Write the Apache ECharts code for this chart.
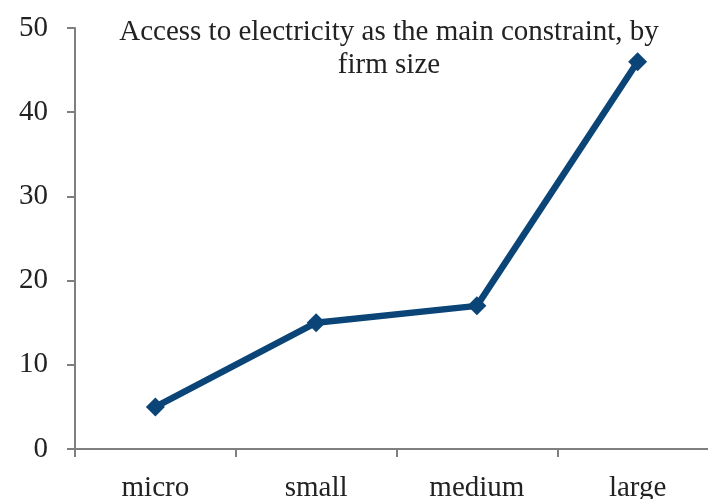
<!DOCTYPE html>
<html>
<head>
<meta charset="utf-8">
<script src="https://cdn.jsdelivr.net/npm/echarts@6/dist/echarts.min.js"></script>
<style>
  html, body { margin: 0; padding: 0; background: #fff; }
  #chart { width: 708px; height: 499px; }
</style>
</head>
<body>
<div id="chart"></div>
<script>
const categories = ["micro", "small", "medium", "large"];
const shareValues = [5, 15, 17, 46];
const titleText = "Access to electricity as the main constraint, by\nfirm size";

const chart = echarts.init(document.getElementById("chart"));
const font = "Liberation Serif";
const axisGray = "#7f7f7f";

const option = {
  animation: false,
  title: {
    text: titleText,
    left: 384,
    top: 11,
    textAlign: "center",
    textStyle: {
      fontFamily: font,
      fontSize: 29,
      fontWeight: "normal",
      color: "#222",
      lineHeight: 33,
    },
  },
  grid: {
    left: 75, top: 28, width: 643, height: 421,
    containLabel: false, outerBoundsMode: "none",
  },
  xAxis: {
    type: "category",
    data: categories,
    boundaryGap: true,
    axisLine: { lineStyle: { color: axisGray, width: 2 } },
    axisTick: { show: true, length: 8, lineStyle: { color: axisGray, width: 2 } },
    axisLabel: { fontFamily: font, fontSize: 29, color: "#222", margin: 25 },
    splitLine: { show: false },
  },
  yAxis: {
    type: "value",
    min: 0,
    max: 50,
    interval: 10,
    axisLine: { show: true, lineStyle: { color: axisGray, width: 2 } },
    axisTick: { show: true, length: 8, lineStyle: { color: axisGray, width: 2 } },
    axisLabel: { fontFamily: font, fontSize: 29, color: "#222", margin: 27 },
    splitLine: { show: false },
  },
  series: [
    {
      type: "line",
      data: shareValues,
      symbol: "diamond",
      symbolSize: 19,
      lineStyle: { color: "#0b4577", width: 6.5 },
      itemStyle: { color: "#0b4577" },
    },
  ],
};

chart.setOption(option);
</script>
</body>
</html>
